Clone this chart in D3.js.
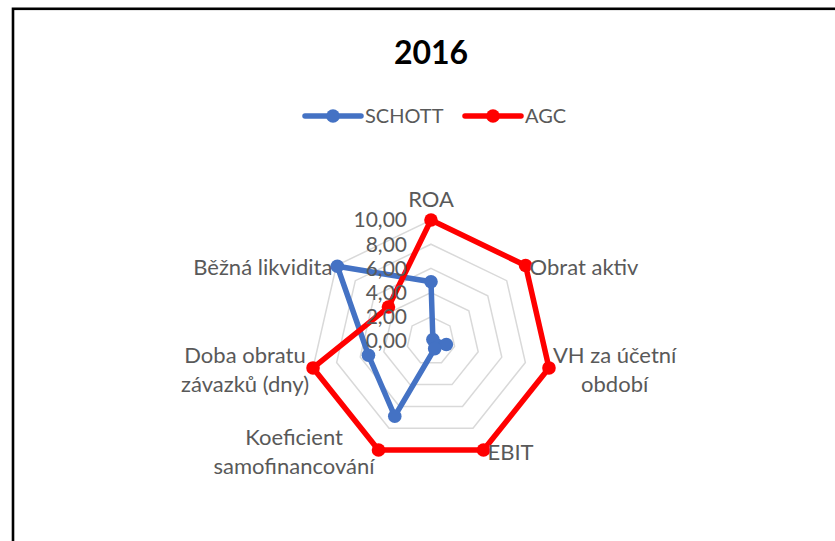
<!DOCTYPE html>
<html>
<head>
<meta charset="utf-8">
<script src="https://cdn.jsdelivr.net/npm/d3@7"></script>
<style>
  body { margin: 0; background: #fff; }
  text { font-family: Lato, "Open Sans", sans-serif; }
</style>
</head>
<body>
<div id="chart"></div>
<script>
// Data
const categories = [
    ["ROA"],
    ["Obrat aktiv"],
    ["VH za účetní", "období"],
    ["EBIT"],
    ["Koeficient", "samofinancování"],
    ["Doba obratu", "závazků (dny)"],
    ["Běžná likvidita"]
];
const schott = [4.9, 0.2, 1.3, 0.7, 6.9, 5.3, 9.9];
const agc = [10, 10, 10, 10, 10, 10, 4.5];
const seriesNames = ["SCHOTT", "AGC"];
const seriesColors = ["#4472C4", "#FF0000"];
const ticks = [0, 2, 4, 6, 8, 10];
const title = "2016";

const width = 835;
const height = 541;
const cx = 431, cy = 341, radius = 121;

const svg = d3.select("#chart").append("svg")
    .attr("width", width)
    .attr("height", height);

// Chart frame (runs off the right and bottom edge)
svg.append("rect")
    .attr("x", 13)
    .attr("y", 8.8)
    .attr("width", 850)
    .attr("height", 600)
    .attr("fill", "none")
    .attr("stroke", "#000")
    .attr("stroke-width", 2.6);

// Title
svg.append("text")
    .attr("x", cx)
    .attr("y", 64)
    .attr("text-anchor", "middle")
    .attr("font-size", 32)
    .attr("font-weight", "bold")
    .attr("fill", "#000")
    .text(title);

// Scales
const rScale = d3.scaleLinear()
    .domain([0, 10])
    .range([0, radius]);

const angle = d3.scaleLinear()
    .domain([0, categories.length])
    .range([0, 2 * Math.PI]);

const g = svg.append("g")
    .attr("transform", `translate(${cx},${cy})`);

const pt = (i, v) => [Math.sin(angle(i)) * rScale(v), -Math.cos(angle(i)) * rScale(v)];

// Grid rings
const ring = d3.line().curve(d3.curveLinearClosed);
g.selectAll(".ring")
    .data(ticks.filter(t => t > 0))
    .join("path")
    .attr("class", "ring")
    .attr("d", t => ring(categories.map((c, i) => pt(i, t))))
    .attr("fill", "none")
    .attr("stroke", "#d9d9d9")
    .attr("stroke-width", 1.5);

// Series
const data = [schott, agc];
const radar = d3.line().curve(d3.curveLinearClosed);

data.forEach((vals, s) => {
    const pts = vals.map((v, i) => pt(i, v));
    g.append("path")
        .attr("d", radar(pts))
        .attr("fill", "none")
        .attr("stroke", seriesColors[s])
        .attr("stroke-width", 5.5)
        .attr("stroke-linejoin", "round");
    g.selectAll(".dot" + s)
        .data(pts)
        .join("circle")
        .attr("cx", d => d[0])
        .attr("cy", d => d[1])
        .attr("r", 6.8)
        .attr("fill", seriesColors[s]);
});

// Value axis labels
g.selectAll(".tick")
    .data(ticks)
    .join("text")
    .attr("class", "tick")
    .attr("x", -24)
    .attr("y", t => -rScale(t))
    .attr("dy", "0.35em")
    .attr("text-anchor", "end")
    .attr("font-size", 21)
    .attr("fill", "#595959")
    .text(t => d3.format(".2f")(t).replace(".", ","));

// Category labels
const lineH = 29;
categories.forEach((lines, i) => {
    const a = angle(i);
    const [x, y] = pt(i, 10);
    const label = g.append("text")
        .attr("font-size", 22)
        .attr("fill", "#595959");
    const spans = label.selectAll("tspan")
        .data(lines)
        .join("tspan")
        .text(d => d);
    if (i === 0) {
        spans.attr("x", x).attr("y", y - 13).attr("text-anchor", "middle");
        return;
    }
    const widths = [];
    spans.each(function() { widths.push(this.getComputedTextLength()); });
    const w = d3.max(widths);
    const side = Math.sin(a) > 0 ? 1 : -1;
    const midX = side > 0 ? x + 4 + w / 2 : x - 4 - w / 2;
    const top = y + 2 - (lines.length - 1) * lineH / 2;
    spans.attr("x", midX)
        .attr("text-anchor", "middle")
        .attr("y", (d, k) => top + k * lineH)
        .attr("dy", "0.35em");
});

// Legend
const legend = svg.append("g")
    .attr("transform", "translate(305,116)");
const legendX = [0, 160];
seriesNames.forEach((name, s) => {
    const item = legend.append("g")
        .attr("transform", `translate(${legendX[s]},0)`);
    item.append("line")
        .attr("x1", 0).attr("x2", 56)
        .attr("stroke", seriesColors[s])
        .attr("stroke-width", 5.5)
        .attr("stroke-linecap", "round");
    item.append("circle")
        .attr("cx", 28)
        .attr("r", 6.8)
        .attr("fill", seriesColors[s]);
    item.append("text")
        .attr("x", 60)
        .attr("dy", "0.35em")
        .attr("font-size", 20)
        .attr("fill", "#595959")
        .text(name);
});
</script>
</body>
</html>
